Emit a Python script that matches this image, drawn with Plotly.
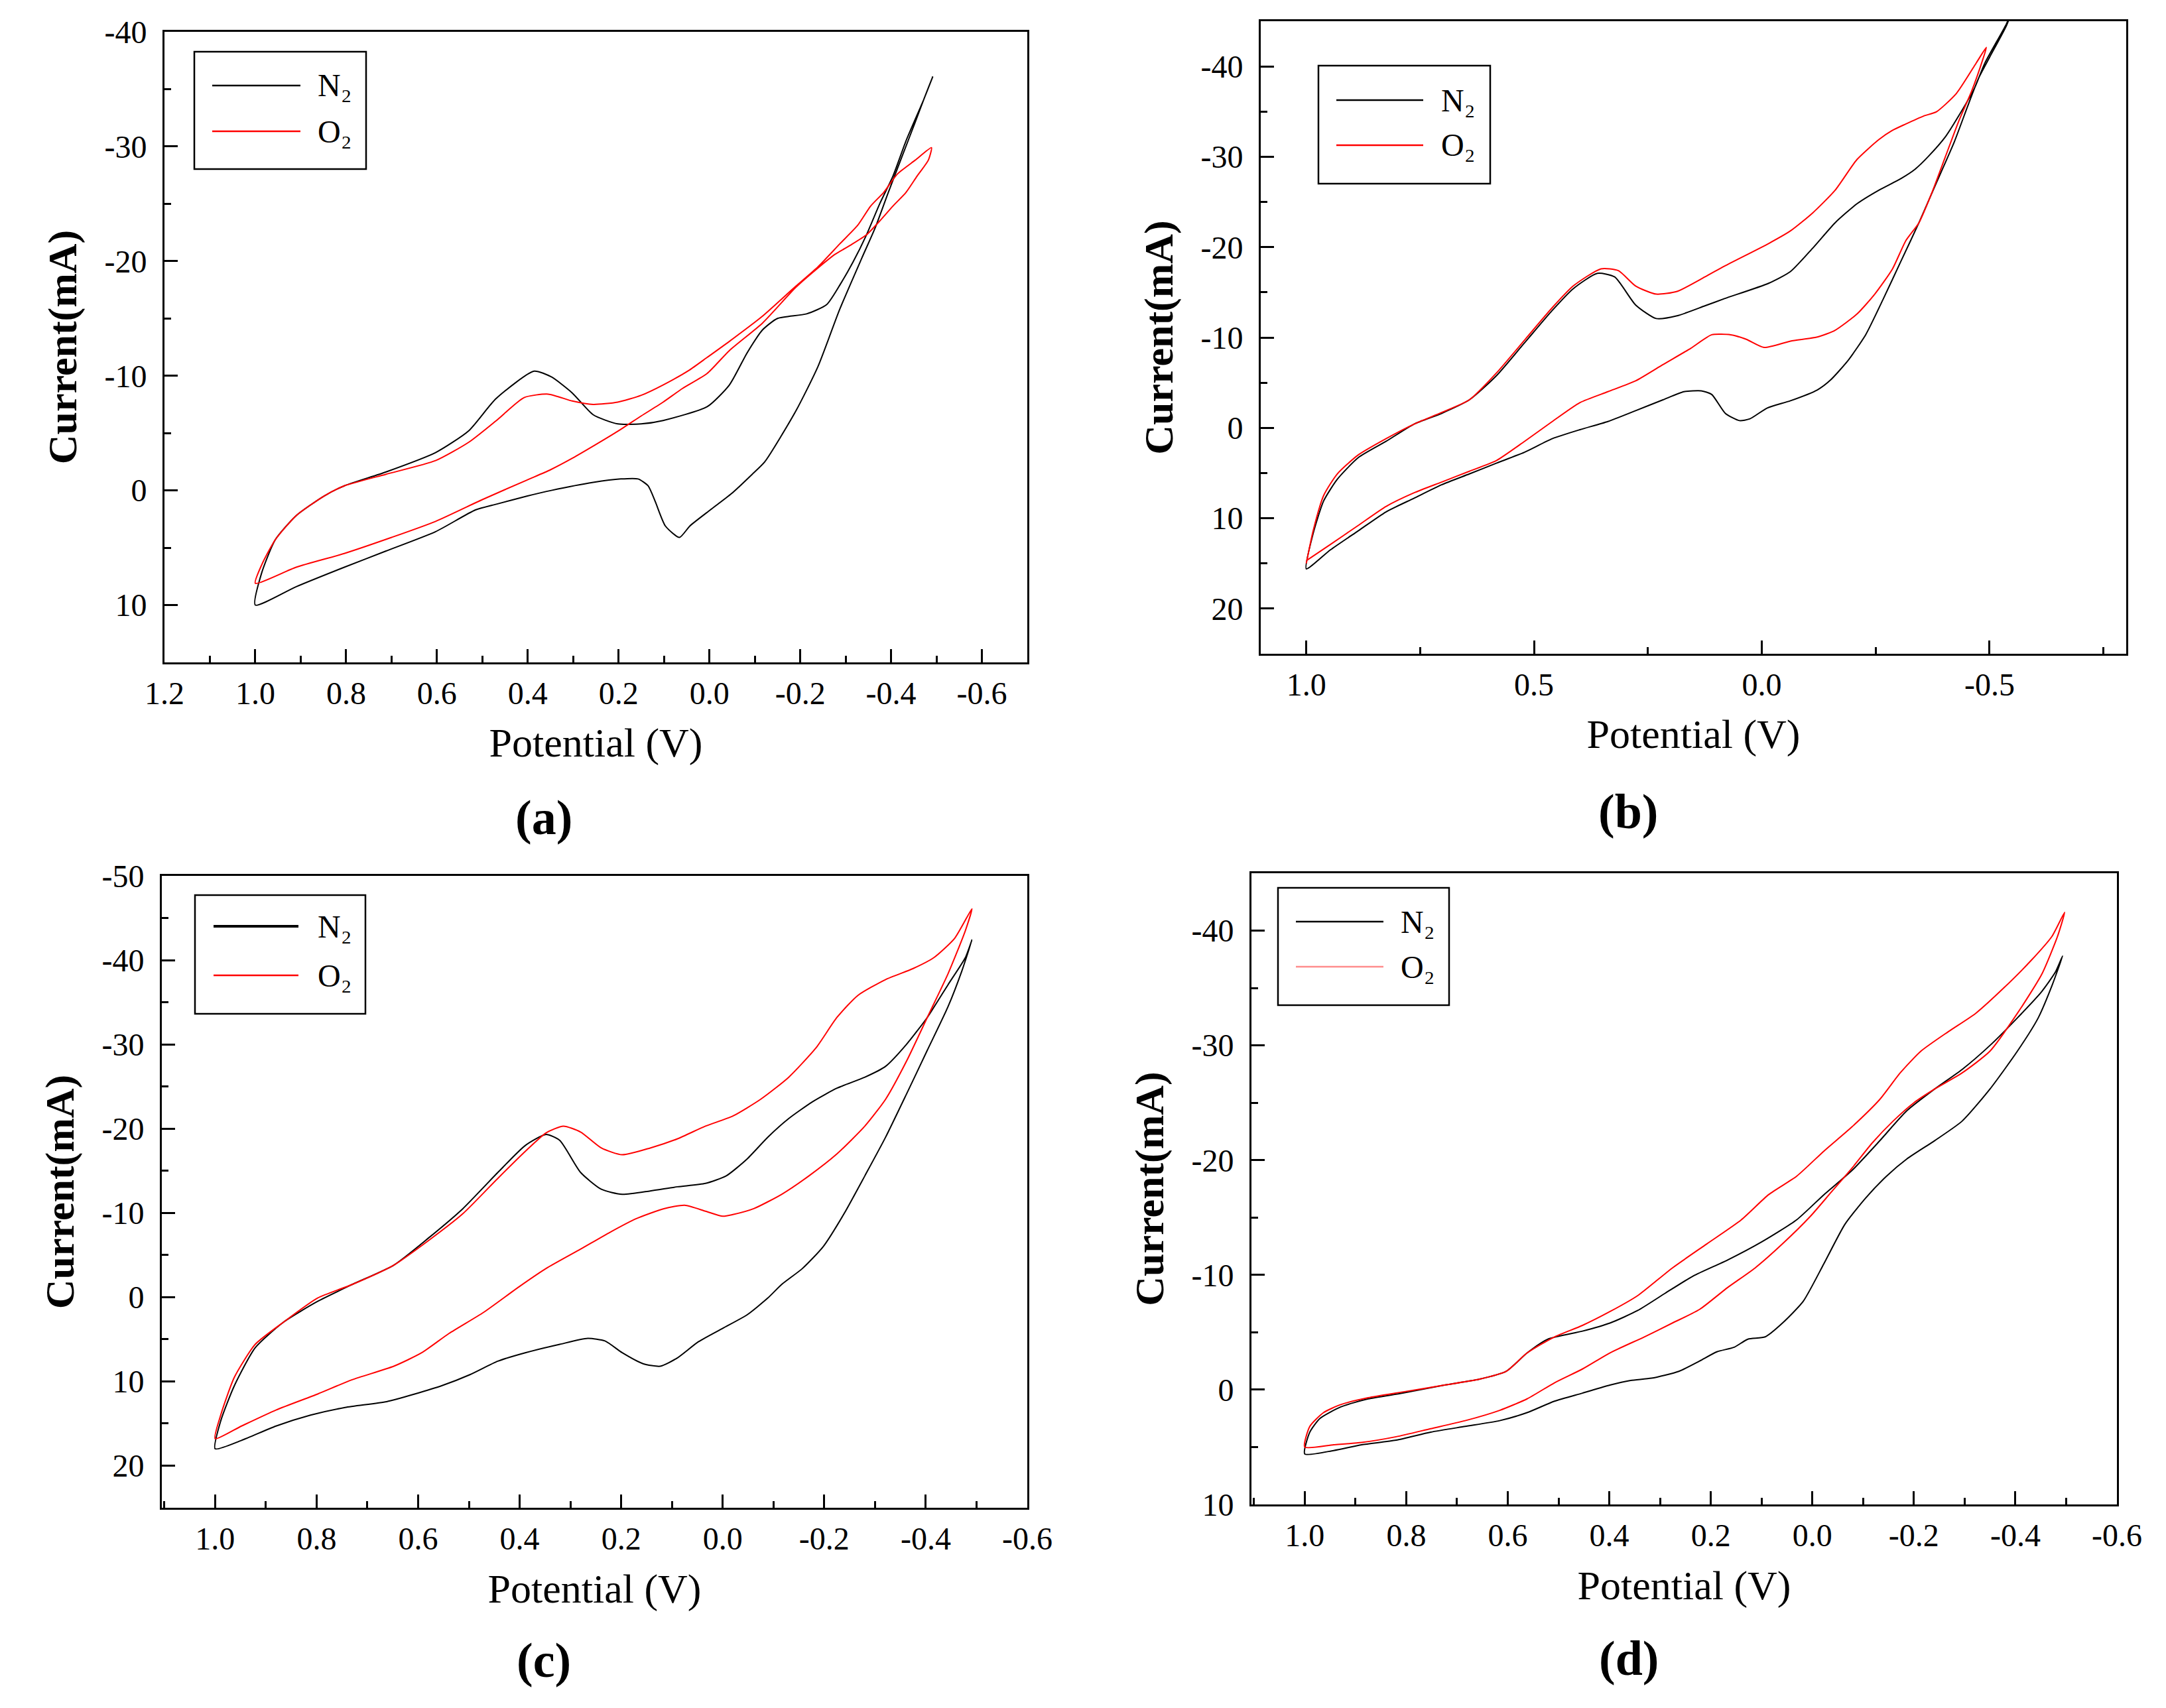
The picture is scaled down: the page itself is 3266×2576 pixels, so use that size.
import plotly.graph_objects as go

# ---------------- data (Potential V, Current mA) ----------------
# Panel (a)
a_n2_v = [1.0, 0.986, 0.956, 0.910, 0.849, 0.804, 0.713, 0.603, 0.530, 0.470, 0.386, 0.348, 0.302, 0.256, 0.202,
          0.150, 0.102, 0.005, -0.044, -0.083, -0.117, -0.150, -0.214, -0.258, -0.287, -0.316, -0.346, -0.375,
          -0.404, -0.433, -0.472, -0.492,
          -0.472, -0.453, -0.423, -0.394, -0.365, -0.336, -0.287, -0.239, -0.190, -0.122, -0.094, -0.048, -0.002,
          0.043, 0.066, 0.097, 0.119, 0.135, 0.157, 0.195, 0.256, 0.348, 0.402, 0.469, 0.515, 0.603, 0.713, 0.804,
          0.910, 1.0]
a_n2_i = [10.0, 7.2, 4.3, 2.2, 0.5, -0.4, -1.6, -3.3, -5.2, -8.0, -10.4, -9.9, -8.5, -6.6, -5.8,
          -5.8, -6.1, -7.3, -9.2, -12.0, -14.0, -15.0, -15.4, -16.2, -17.9, -19.9, -22.3, -25.0,
          -27.4, -30.5, -34.1, -36.1,
          -34.1, -32.1, -29.0, -26.0, -22.9, -20.3, -15.8, -10.8, -6.9, -2.5, -1.4, 0.3, 1.7,
          3.1, 4.1, 3.1, 1.0, -0.4, -1.0, -1.0, -0.7, 0.0, 0.5, 1.2, 1.7, 3.6, 5.3, 6.7,
          8.4, 10.0]
a_o2_v = [1.0, 0.986, 0.956, 0.910, 0.849, 0.804, 0.713, 0.603, 0.530, 0.469, 0.408, 0.355, 0.302, 0.256, 0.202,
          0.150, 0.102, 0.044, 0.005, -0.044, -0.117, -0.190, -0.239, -0.287, -0.326, -0.355, -0.384, -0.414,
          -0.453, -0.489,
          -0.482, -0.457, -0.433, -0.404, -0.375, -0.346, -0.311, -0.277, -0.239, -0.190, -0.117, -0.044, 0.005,
          0.059, 0.102, 0.150, 0.200, 0.250, 0.302, 0.350, 0.402, 0.500, 0.603, 0.700, 0.804, 0.910, 1.0]
a_o2_i = [8.1, 6.5, 4.3, 2.2, 0.5, -0.4, -1.4, -2.6, -4.2, -6.1, -8.1, -8.4, -7.8, -7.5, -7.7,
          -8.3, -9.2, -10.5, -11.6, -13.0, -15.2, -17.8, -19.5, -21.5, -23.1, -24.8, -26.0, -27.6,
          -28.8, -29.9,
          -28.8, -27.4, -26.0, -24.8, -23.5, -22.3, -21.4, -20.6, -19.4, -17.7, -14.6, -12.2, -10.2,
          -8.9, -7.7, -6.5, -5.2, -4.0, -2.8, -1.8, -0.9, 0.8, 2.7, 4.1, 5.5, 6.7, 8.1]

# Panel (b)
b_n2_v = [1.0, 0.985, 0.962, 0.932, 0.886, 0.825, 0.764, 0.703, 0.642, 0.582, 0.521, 0.460, 0.414, 0.361, 0.323,
          0.277, 0.232, 0.186, 0.125, 0.082, -0.015, -0.063, -0.112, -0.161, -0.209, -0.257, -0.306, -0.336,
          -0.365, -0.403, -0.432, -0.467, -0.490, -0.537, -0.552,
          -0.537, -0.500, -0.476, -0.452, -0.423, -0.384, -0.345, -0.306, -0.267, -0.228, -0.190, -0.151, -0.122,
          -0.063, -0.012, 0.026, 0.049, 0.080, 0.110, 0.133, 0.171, 0.217, 0.277, 0.338, 0.399, 0.460, 0.521,
          0.582, 0.642, 0.703, 0.764, 0.825, 0.886, 0.947, 1.0]
b_n2_i = [15.6, 11.7, 8.1, 5.7, 3.3, 1.5, -0.4, -1.6, -3.1, -5.8, -9.4, -13.0, -15.4, -17.1, -16.7,
          -13.6, -12.1, -12.4, -13.5, -14.3, -16.0, -17.3, -19.9, -22.7, -24.8, -26.3, -27.6, -28.6,
          -30.0, -32.2, -34.5, -37.6, -40.4, -44.7, -46.5,
          -44.5, -41.0, -38.7, -35.6, -31.7, -27.2, -22.7, -18.5, -14.3, -10.3, -7.5, -5.3, -4.2,
          -3.0, -2.2, -1.0, -0.8, -1.6, -3.7, -4.1, -4.0, -3.1, -1.9, -0.7, 0.2, 1.2, 2.7,
          3.9, 5.1, 6.3, 7.8, 9.3, 11.4, 13.5, 15.6]
b_o2_v = [1.0, 0.985, 0.962, 0.932, 0.886, 0.825, 0.764, 0.703, 0.642, 0.582, 0.521, 0.460, 0.414, 0.353, 0.315,
          0.277, 0.232, 0.186, 0.125, 0.082, -0.015, -0.063, -0.112, -0.161, -0.209, -0.257, -0.286, -0.315,
          -0.355, -0.384, -0.427, -0.471, -0.493,
          -0.486, -0.461, -0.432, -0.403, -0.374, -0.345, -0.316, -0.287, -0.248, -0.209, -0.161, -0.122, -0.063,
          -0.005, 0.034, 0.068, 0.110, 0.156, 0.217, 0.277, 0.338, 0.399, 0.460, 0.521, 0.582, 0.642, 0.703,
          0.764, 0.825, 0.886, 0.947, 1.0]
b_o2_i = [15.0, 11.4, 7.5, 5.1, 3.0, 1.2, -0.4, -1.7, -3.1, -6.1, -9.7, -13.3, -15.7, -17.6, -17.4,
          -15.7, -14.8, -15.1, -16.7, -17.9, -20.4, -21.8, -23.8, -26.3, -29.7, -31.9, -32.9, -33.6,
          -34.5, -35.0, -37.0, -40.4, -42.1,
          -40.9, -37.3, -33.9, -30.0, -26.1, -22.7, -20.7, -17.6, -14.8, -12.6, -10.8, -10.05, -9.6,
          -8.9, -9.8, -10.3, -10.3, -8.8, -7.0, -5.2, -4.0, -2.8, -0.7, 1.5, 3.6, 4.8, 6.0,
          7.2, 8.7, 10.8, 12.9, 14.7]

# Panel (c)
c_n2_v = [1.0, 0.989, 0.962, 0.921, 0.866, 0.798, 0.730, 0.648, 0.580, 0.512, 0.443, 0.389, 0.348, 0.321, 0.280,
          0.239, 0.198, 0.143, 0.089, 0.034, -0.007, -0.048, -0.089, -0.130, -0.177, -0.225, -0.280, -0.321,
          -0.362, -0.403, -0.444, -0.478, -0.491,
          -0.471, -0.444, -0.403, -0.362, -0.321, -0.280, -0.239, -0.198, -0.157, -0.116, -0.089, -0.048, 0.0,
          0.048, 0.089, 0.123, 0.157, 0.198, 0.232, 0.266, 0.321, 0.389, 0.443, 0.498, 0.553, 0.607, 0.662,
          0.744, 0.812, 0.880, 0.948, 1.0]
c_n2_i = [18.0, 14.7, 10.5, 6.0, 3.0, 0.5, -1.5, -3.8, -7.0, -10.5, -14.8, -18.0, -19.3, -18.6, -14.8,
          -12.8, -12.2, -12.6, -13.1, -13.5, -14.4, -16.4, -19.0, -21.2, -23.2, -24.8, -26.1, -27.4,
          -30.0, -33.2, -37.1, -40.3, -42.4,
          -38.7, -34.5, -29.3, -24.1, -19.0, -14.4, -9.9, -6.0, -3.4, -1.5, 0.1, 2.1, 3.7,
          5.3, 7.2, 8.2, 7.9, 6.6, 5.2, 4.9, 5.6, 6.6, 7.6, 9.2, 10.5, 11.5, 12.4,
          13.1, 14.0, 15.3, 17.0, 18.0]
c_o2_v = [1.0, 0.989, 0.962, 0.921, 0.866, 0.798, 0.730, 0.648, 0.580, 0.512, 0.443, 0.389, 0.348, 0.314, 0.280,
          0.239, 0.198, 0.143, 0.089, 0.034, -0.020, -0.075, -0.130, -0.184, -0.225, -0.266, -0.321, -0.375,
          -0.416, -0.457, -0.491,
          -0.478, -0.444, -0.403, -0.362, -0.321, -0.280, -0.225, -0.170, -0.116, -0.061, -0.020, 0.0, 0.034,
          0.075, 0.116, 0.171, 0.225, 0.280, 0.348, 0.402, 0.471, 0.539, 0.593, 0.648, 0.730, 0.798, 0.880,
          0.948, 1.0]
c_o2_i = [16.8, 14.0, 9.5, 5.6, 3.0, 0.1, -1.5, -3.8, -6.7, -9.9, -14.1, -17.3, -19.5, -20.3, -19.6,
          -17.7, -16.9, -17.7, -18.8, -20.3, -21.5, -23.5, -26.1, -29.6, -33.2, -35.8, -37.7, -39.0,
          -40.3, -42.6, -46.1,
          -43.5, -38.4, -33.2, -28.0, -23.5, -20.3, -17.0, -14.4, -12.2, -10.5, -9.8, -9.6, -10.2,
          -10.9, -10.5, -9.3, -7.6, -5.7, -3.4, -1.2, 1.8, 4.3, 6.6, 8.2, 9.8, 11.5, 13.4,
          15.3, 16.8]

# Panel (d)
d_n2_v = [1.0, 0.990, 0.970, 0.929, 0.875, 0.807, 0.725, 0.657, 0.603, 0.562, 0.521, 0.453, 0.399, 0.344, 0.290,
          0.235, 0.167, 0.099, 0.031, -0.023, -0.078, -0.133, -0.186, -0.241, -0.295, -0.350, -0.404, -0.452,
          -0.479, -0.493,
          -0.472, -0.445, -0.404, -0.350, -0.295, -0.241, -0.186, -0.146, -0.105, -0.064, -0.023, 0.018, 0.059,
          0.093, 0.127, 0.154, 0.188, 0.222, 0.263, 0.317, 0.358, 0.399, 0.453, 0.508, 0.562, 0.616, 0.684,
          0.752, 0.820, 0.888, 0.943, 1.0]
d_n2_i = [5.6, 3.7, 2.5, 1.5, 0.8, 0.3, -0.4, -0.9, -1.6, -3.2, -4.4, -5.1, -5.8, -6.9, -8.4,
          -9.9, -11.3, -12.9, -14.8, -17.0, -19.1, -21.7, -24.3, -26.2, -27.9, -30.0, -32.4, -34.7,
          -36.4, -37.8,
          -35.2, -32.4, -29.5, -26.2, -23.4, -21.7, -20.1, -18.6, -16.7, -14.4, -11.0, -7.7, -5.8,
          -4.6, -4.4, -3.7, -3.3, -2.5, -1.6, -1.0, -0.8, -0.4, 0.3, 1.0, 2.0, 2.7, 3.2,
          3.7, 4.4, 4.8, 5.3, 5.6]
d_o2_v = [1.0, 0.990, 0.963, 0.929, 0.875, 0.807, 0.725, 0.657, 0.603, 0.562, 0.508, 0.453, 0.399, 0.344, 0.276,
          0.208, 0.140, 0.086, 0.031, -0.023, -0.078, -0.133, -0.173, -0.214, -0.268, -0.322, -0.377, -0.431,
          -0.472, -0.497,
          -0.483, -0.452, -0.404, -0.350, -0.295, -0.241, -0.200, -0.159, -0.118, -0.078, -0.037, 0.004, 0.059,
          0.113, 0.167, 0.222, 0.276, 0.331, 0.399, 0.453, 0.508, 0.562, 0.616, 0.684, 0.752, 0.820, 0.888,
          0.943, 1.0]
d_o2_i = [5.0, 3.2, 2.0, 1.3, 0.7, 0.2, -0.4, -0.9, -1.6, -3.2, -4.6, -5.6, -6.8, -8.2, -10.6,
          -12.7, -14.8, -17.0, -18.6, -20.8, -22.9, -25.3, -27.6, -29.5, -31.2, -32.8, -35.0, -37.4,
          -39.5, -41.6,
          -39.5, -36.2, -32.8, -29.5, -27.6, -26.2, -25.0, -23.4, -21.5, -19.3, -17.2, -15.1, -12.7,
          -10.6, -8.9, -7.0, -5.8, -4.6, -3.2, -1.8, -0.6, 0.8, 1.8, 2.7, 3.4, 4.1, 4.6,
          4.8, 5.0]

series_names = ["N\u2082", "O\u2082"]
panel_labels = ["(a)", "(b)", "(c)", "(d)"]
x_title = "Potential (V)"
y_title = "Current(mA)"

# tick labels
a_xticks = [1.2, 1.0, 0.8, 0.6, 0.4, 0.2, 0.0, -0.2, -0.4, -0.6]
a_xtext = ["1.2", "1.0", "0.8", "0.6", "0.4", "0.2", "0.0", "-0.2", "-0.4", "-0.6"]
a_yticks = [-40, -30, -20, -10, 0, 10]
a_ytext = ["-40", "-30", "-20", "-10", "0", "10"]
b_xticks = [1.0, 0.5, 0.0, -0.5]
b_xtext = ["1.0", "0.5", "0.0", "-0.5"]
b_yticks = [-40, -30, -20, -10, 0, 10, 20]
b_ytext = ["-40", "-30", "-20", "-10", "0", "10", "20"]
cd_xticks = [1.0, 0.8, 0.6, 0.4, 0.2, 0.0, -0.2, -0.4, -0.6]
cd_xtext = ["1.0", "0.8", "0.6", "0.4", "0.2", "0.0", "-0.2", "-0.4", "-0.6"]
c_yticks = [-50, -40, -30, -20, -10, 0, 10, 20]
c_ytext = ["-50", "-40", "-30", "-20", "-10", "0", "10", "20"]
d_yticks = [-40, -30, -20, -10, 0, 10]
d_ytext = ["-40", "-30", "-20", "-10", "0", "10"]

# ---------------- layout helpers ----------------
PAGE_MARGIN = 8                      # default body margin of the html page
W, H = 3266 - 2 * PAGE_MARGIN, 2576 - 2 * PAGE_MARGIN
FONT = "Liberation Serif"


def px_x(p):
    return (p - PAGE_MARGIN) / W


def px_y(p):
    return 1 - (p - PAGE_MARGIN) / H


panels = [
    dict(n2=(a_n2_v, a_n2_i), o2=(a_o2_v, a_o2_i), xr=[1.2, -0.7], yr=[15, -40],
         xt=(a_xticks, a_xtext), xm=0.1, yt=(a_yticks, a_ytext), frame=(248, 48, 1549, 999),
         leg=dict(box=(293, 78, 552, 255), ly=(129, 198), lx=(320, 453), tx=477), lab=(820, 1233)),
    dict(n2=(b_n2_v, b_n2_i), o2=(b_o2_v, b_o2_i), xr=[1.1, -0.8], yr=[25, -45],
         xt=(b_xticks, b_xtext), xm=0.25, yt=(b_yticks, b_ytext), frame=(1901, 32, 3206, 986),
         leg=dict(box=(1988, 99, 2247, 277), ly=(151, 219), lx=(2015, 2146), tx=2171), lab=(2455, 1224)),
    dict(n2=(c_n2_v, c_n2_i), o2=(c_o2_v, c_o2_i), xr=[1.105, -0.6], yr=[25, -50],
         xt=(cd_xticks, cd_xtext), xm=0.1, yt=(c_yticks, c_ytext), frame=(244, 1321, 1549, 2274),
         leg=dict(box=(294, 1350, 551, 1529), ly=(1397, 1471), lx=(322, 450), tx=477), lab=(820, 2504)),
    dict(n2=(d_n2_v, d_n2_i), o2=(d_o2_v, d_o2_i), xr=[1.105, -0.6], yr=[10, -45],
         xt=(cd_xticks, cd_xtext), xm=0.1, yt=(d_yticks, d_ytext), frame=(1887, 1317, 3192, 2269),
         leg=dict(box=(1927, 1339, 2185, 1516), ly=(1390, 1458), lx=(1954, 2086), tx=2110), lab=(2456, 2501)),
]

fig = go.Figure()
shapes = []
annotations = []
colors = ["#000000", "#ff0000"]

for k, p in enumerate(panels):
    sfx = "" if k == 0 else str(k + 1)
    xa, ya = "x" + sfx, "y" + sfx
    for j, key in enumerate(["n2", "o2"]):
        v, i = p[key]
        fig.add_trace(go.Scatter(x=v, y=i, mode="lines", name=series_names[j], xaxis=xa, yaxis=ya,
                                 line=dict(color=colors[j], width=2, shape="spline", smoothing=0.6),
                                 showlegend=False, hoverinfo="skip"))
    l, t, r, b = p["frame"]
    common = dict(ticks="inside", ticklen=20, tickwidth=2.5, tickcolor="black", showline=True,
                  linewidth=3, linecolor="black", mirror=True, showgrid=False, zeroline=False,
                  automargin=False, tickmode="array", tickfont=dict(family=FONT, size=48, color="black"))
    fig.layout["xaxis" + sfx] = dict(
        common, domain=[px_x(l), px_x(r)], anchor=ya, range=p["xr"], tickvals=p["xt"][0], ticktext=p["xt"][1],
        ticklabelstandoff=2,
        minor=dict(ticks="inside", ticklen=10, tickwidth=2.5, tickcolor="black", tickmode="linear",
                   tick0=0, dtick=p["xm"], showgrid=False),
        title=dict(text=x_title, font=dict(family=FONT, size=62, color="black"), standoff=28))
    fig.layout["yaxis" + sfx] = dict(
        common, domain=[px_y(b), px_y(t)], anchor=xa, range=p["yr"], tickvals=p["yt"][0], ticktext=p["yt"][1],
        ticklabelstandoff=14,
        minor=dict(ticks="inside", ticklen=10, tickwidth=2.5, tickcolor="black", tickmode="linear",
                   tick0=0, dtick=5, showgrid=False),
        title=dict(text=y_title, font=dict(family=FONT, size=62, color="black", weight="bold"), standoff=22))

    lg = p["leg"]
    bx0, by0, bx1, by1 = lg["box"]
    shapes.append(dict(type="rect", xref="paper", yref="paper", x0=px_x(bx0), x1=px_x(bx1),
                       y0=px_y(by1), y1=px_y(by0), line=dict(color="black", width=2.5), fillcolor="white"))
    for j in range(2):
        yy = px_y(lg["ly"][j])
        lc = colors[j] if not (k == 3 and j == 1) else "#ff8c8c"
        shapes.append(dict(type="line", xref="paper", yref="paper", x0=px_x(lg["lx"][0]), x1=px_x(lg["lx"][1]),
                           y0=yy, y1=yy, line=dict(color=lc, width=4 if (k == 2 and j == 0) else 2.5)))
        annotations.append(dict(text=series_names[j], xref="paper", yref="paper", x=px_x(lg["tx"]), y=yy,
                                xanchor="left", yanchor="middle", showarrow=False,
                                font=dict(family=FONT, size=48, color="black")))
    annotations.append(dict(text=panel_labels[k], xref="paper", yref="paper", x=px_x(p["lab"][0]),
                            y=px_y(p["lab"][1]), xanchor="center", yanchor="middle", showarrow=False,
                            font=dict(family=FONT, size=74, color="black", weight="bold")))

fig.update_layout(template="none", width=W, height=H, margin=dict(l=0, r=0, t=0, b=0), autosize=False,
                  paper_bgcolor="white", plot_bgcolor="white", showlegend=False,
                  shapes=shapes, annotations=annotations)

fig.write_html("out.html")
